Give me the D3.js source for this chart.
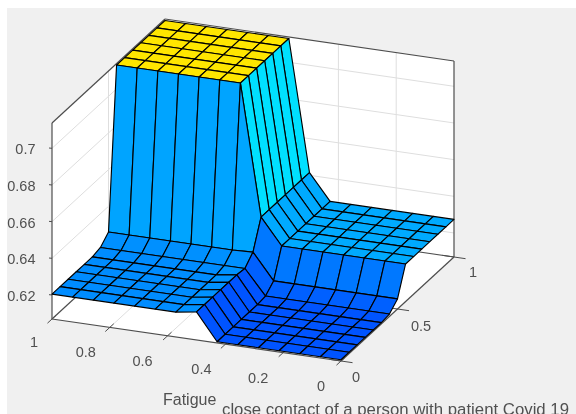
<!DOCTYPE html>
<html><head><meta charset="utf-8">
<script src="https://cdnjs.cloudflare.com/ajax/libs/d3/7.8.5/d3.min.js"></script>
<style>
html,body{margin:0;padding:0;background:#fff;overflow:hidden}
svg{display:block;filter:blur(0.45px)}
text{font-family:"Liberation Sans",Arial,sans-serif;fill:#505050}
</style></head><body>
<svg id="c" width="576" height="414"></svg>
<script>
const fatigueGrid=[1,.9286,.8571,.7857,.7143,.6429,.5714,.5,.4286,.3571,.2857,.2143,.1429,.0714,0];
const contactGrid=[0,.0714,.1429,.2143,.2857,.3571,.4286,.5,.5714,.6429,.7143,.7857,.8571,.9286,1];
const lowRow =[.6205,.6205,.6205,.6205,.6205,.6205,.6205,.6222,.6076,.6076,.6076,.6076,.6076,.6076,.6076];
const rampRow=[.6216,.6216,.6216,.6216,.6216,.6216,.6216,.6216,.6082,.6082,.6082,.6082,.6082,.6082,.6082];
const midRow =[.6260,.6260,.6260,.6260,.6260,.6260,.6260,.6265,.6124,.6124,.6124,.6124,.6124,.6124,.6124];
const highRow=[.7130,.7130,.7130,.7130,.7130,.7130,.7130,.6415,.6274,.6274,.6274,.6274,.6274,.6274,.6274];
const surface=[lowRow,lowRow,lowRow,lowRow,lowRow,lowRow,rampRow,midRow,highRow,highRow,highRow,highRow,highRow,highRow,highRow];
const zTicks=[.62,.64,.66,.68,.7];
const zTickLabels=["0.62","0.64","0.66","0.68","0.7"];
const fatigueTicks=[1,.8,.6,.4,.2,0];
const fatigueTickLabels=["1","0.8","0.6","0.4","0.2","0"];
const fatigueLabelDx=[-18,-24,-25,-24,-25,-20];
const fatigueLabelDy=[28,30,30,30,30,30];
const contactTicks=[0,.5,1];
const contactTickLabels=["0","0.5","1"];
const contactLabelDx=[15,23.5,19];
const contactLabelDy=[21,22,20];
const colorStops=[.6076,.6082,.6124,.6205,.6222,.6260,.6274,.6415,.7130];
const colorValues=["#0054ff","#0060ff","#0078ff","#008cff","#0092ff","#00a4ff","#00aaff","#00e0ff","#ffe600"];

const svg=d3.select("#c");
const zDomain=[.6069,.7138];
const fx=d3.scaleLinear().domain([1,0]).range([52,341]);
const fy=d3.scaleLinear().domain([1,0]).range([319,361]);
const cx=d3.scaleLinear().domain([0,1]).range([0,113]);
const cy=d3.scaleLinear().domain([0,1]).range([0,-104]);
const zy=d3.scaleLinear().domain(zDomain).range([0,-196]);
const color=d3.scaleLinear().domain(colorStops).range(colorValues).clamp(true);
const P=(f,c,z)=>[fx(f)+cx(c),fy(f)+cy(c)+zy(z)];
const line=d3.line();

svg.append("rect").attr("x",7).attr("y",8).attr("width",569).attr("height",406).attr("fill","#f0f0f0");
const zMin=zDomain[0],zMax=zDomain[1];
svg.append("path").attr("fill","#fff").attr("d",line([P(1,0,zMin),P(1,0,zMax),P(1,1,zMax),P(0,1,zMax),P(0,1,zMin),P(0,0,zMin)])+"Z");

const grid=svg.append("g").attr("stroke","#dedede").attr("stroke-width",1).attr("fill","none");
zTicks.forEach(z=>grid.append("path").attr("d",line([P(1,0,z),P(1,1,z),P(0,1,z)])));
fatigueTicks.slice(1,-1).forEach(f=>{
  grid.append("path").attr("d",line([P(f,0,zMin),P(f,1,zMin),P(f,1,zMax)]));
});
contactTicks.slice(1,-1).forEach(c=>{
  grid.append("path").attr("d",line([P(0,c,zMin),P(1,c,zMin),P(1,c,zMax)]));
});

const box=svg.append("g").attr("stroke","#4d4d4d").attr("stroke-width",1.2).attr("fill","none");
[[[1,0,zMin],[0,0,zMin]],[[0,0,zMin],[0,1,zMin]],[[0,1,zMin],[1,1,zMin]],[[1,1,zMin],[1,0,zMin]],
 [[1,0,zMin],[1,0,zMax]],[[0,1,zMin],[0,1,zMax]],[[1,0,zMax],[1,1,zMax]],[[1,1,zMax],[0,1,zMax]]]
 .forEach(s=>box.append("path").attr("d",line(s.map(p=>P(...p)))));

const ticks=svg.append("g").attr("stroke","#4d4d4d").attr("stroke-width",1).attr("fill","none");
zTicks.forEach(z=>{const p=P(1,0,z);ticks.append("path").attr("d",line([p,[p[0]-3,p[1]-.3]]));});
fatigueTicks.forEach(f=>{ticks.append("path").attr("d",line([P(f,-.04,zMin),P(f,.035,zMin)]));});
contactTicks.forEach(c=>{ticks.append("path").attr("d",line([P(-.04,c,zMin),P(.04,c,zMin)]));});

const cells=svg.append("g").attr("stroke","#000").attr("stroke-width",1.15).attr("stroke-linejoin","round");
for(let j=contactGrid.length-2;j>=0;j--){
  for(let i=0;i<fatigueGrid.length-1;i++){
    const q=[P(fatigueGrid[i],contactGrid[j],surface[j][i]),
             P(fatigueGrid[i+1],contactGrid[j],surface[j][i+1]),
             P(fatigueGrid[i+1],contactGrid[j+1],surface[j+1][i+1]),
             P(fatigueGrid[i],contactGrid[j+1],surface[j+1][i])];
    cells.append("path").attr("d",line(q)+"Z").attr("fill",color(surface[j][i+1]));
  }
}

const zLab=svg.append("g").attr("font-size",14.5).attr("text-anchor","end");
zTicks.forEach((z,k)=>zLab.append("text").attr("x",35.5).attr("y",P(1,0,z)[1]+6).text(zTickLabels[k]));
const fLab=svg.append("g").attr("font-size",14.5).attr("text-anchor","middle");
fatigueTicks.forEach((f,k)=>{const p=P(f,0,zMin);fLab.append("text").attr("x",p[0]+fatigueLabelDx[k]).attr("y",p[1]+fatigueLabelDy[k]).text(fatigueTickLabels[k]);});
const cLab=svg.append("g").attr("font-size",14.5).attr("text-anchor","middle");
contactTicks.forEach((c,k)=>{const p=P(0,c,zMin);cLab.append("text").attr("x",p[0]+contactLabelDx[k]).attr("y",p[1]+contactLabelDy[k]).text(contactTickLabels[k]);});
svg.append("text").attr("x",163).attr("y",405).attr("font-size",16).text("Fatigue");
svg.append("text").attr("x",222).attr("y",414.5).attr("font-size",16.8).text("close contact of a person with patient Covid 19");
</script></body></html>
